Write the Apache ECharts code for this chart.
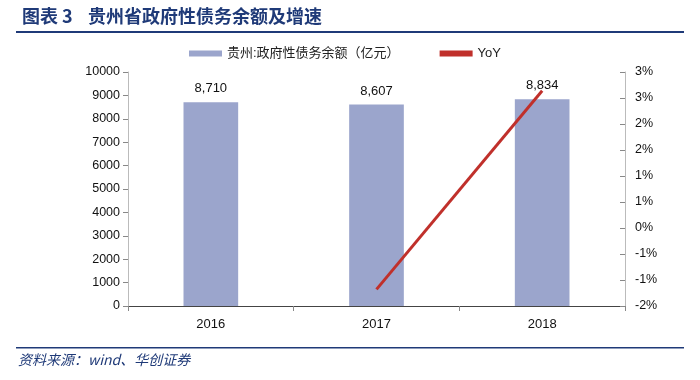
<!DOCTYPE html>
<html><head><meta charset="utf-8">
<script src="https://cdn.jsdelivr.net/npm/echarts@6/dist/echarts.min.js"></script>
<style>html,body{margin:0;padding:0;background:#fff}#c{width:700px;height:380px}</style>
</head><body><div id="c"></div>
<script>
const categories = ['2016', '2017', '2018'];
const debtValues = [8710, 8607, 8834];
const yoyValues = [null, -1.18, 2.64];
const rightTickLabels = ['-2%', '-1%', '-1%', '0%', '1%', '1%', '2%', '2%', '3%', '3%'];

const chart = echarts.init(document.getElementById('c'));
const rMin = -1.5, rStep = 0.5;
chart.setOption({
  animation: false,
  graphic: [
    {type: 'text', left: 22, top: 7, style: {text: '图表 3', font: 'bold 18px "Noto Sans CJK SC"', fill: '#1F3A78'}},
    {type: 'text', left: 88, top: 7, style: {text: '贵州省政府性债务余额及增速', font: 'bold 18px "Noto Sans CJK SC"', fill: '#1F3A78'}},
    {type: 'rect', shape: {x: 16, y: 31, width: 668, height: 2}, style: {fill: '#1F3A78'}},
    {type: 'rect', shape: {x: 16, y: 347, width: 668, height: 1.5}, style: {fill: '#1F3A78'}},
    {type: 'text', left: 18, top: 353, style: {text: '资料来源：wind、华创证券', font: 'italic 14px "Noto Sans CJK SC"', fill: '#1F3A78'}}
  ],
  legend: {
    top: 42, left: 184, itemGap: 40, itemWidth: 33, itemHeight: 6,
    textStyle: {fontSize: 13, color: '#222', fontFamily: 'Liberation Sans, "Noto Sans CJK SC"'},
    data: [
      {name: '贵州:政府性债务余额（亿元）', icon: 'rect'},
      {name: 'YoY', icon: 'rect', itemStyle: {}}
    ]
  },
  grid: {left: 128, right: 75, top: 72, bottom: 74},
  xAxis: {
    type: 'category', data: categories,
    axisLine: {lineStyle: {color: '#444'}},
    axisTick: {show: true, alignWithLabel: false, lineStyle: {color: '#888'}},
    axisLabel: {fontSize: 13, color: '#111', margin: 12, fontFamily: 'Liberation Sans'}
  },
  yAxis: [
    {type: 'value', min: 0, max: 10000, interval: 1000,
     axisLine: {show: true, lineStyle: {color: '#bbb'}},
     axisTick: {show: true, lineStyle: {color: '#888'}},
     splitLine: {show: false},
     axisLabel: {fontSize: 12.5, color: '#111', fontFamily: 'Liberation Sans', formatter: v => String(v)}},
    {type: 'value', min: rMin, max: 3.0, interval: rStep, position: 'right',
     axisLine: {show: true, lineStyle: {color: '#bbb'}},
     axisTick: {show: true, inside: true, lineStyle: {color: '#888'}},
     splitLine: {show: false},
     axisLabel: {fontSize: 12.5, color: '#111', fontFamily: 'Liberation Sans', margin: 10,
       formatter: function (v) { const i = Math.round((v - rMin) / rStep); return rightTickLabels[i] || ''; }}}
  ],
  series: [
    {name: '贵州:政府性债务余额（亿元）', type: 'bar', data: debtValues, barWidth: '33%',
     itemStyle: {color: '#9BA5CC'},
     label: {show: true, position: 'top', distance: 7, fontSize: 13, color: '#111', fontFamily: 'Liberation Sans',
       formatter: p => p.value.toLocaleString('en-US')}},
    {name: 'YoY', type: 'line', yAxisIndex: 1, data: yoyValues, symbol: 'none',
     lineStyle: {color: '#C0302B', width: 3}, itemStyle: {color: '#C0302B'}}
  ]
});
</script></body></html>
